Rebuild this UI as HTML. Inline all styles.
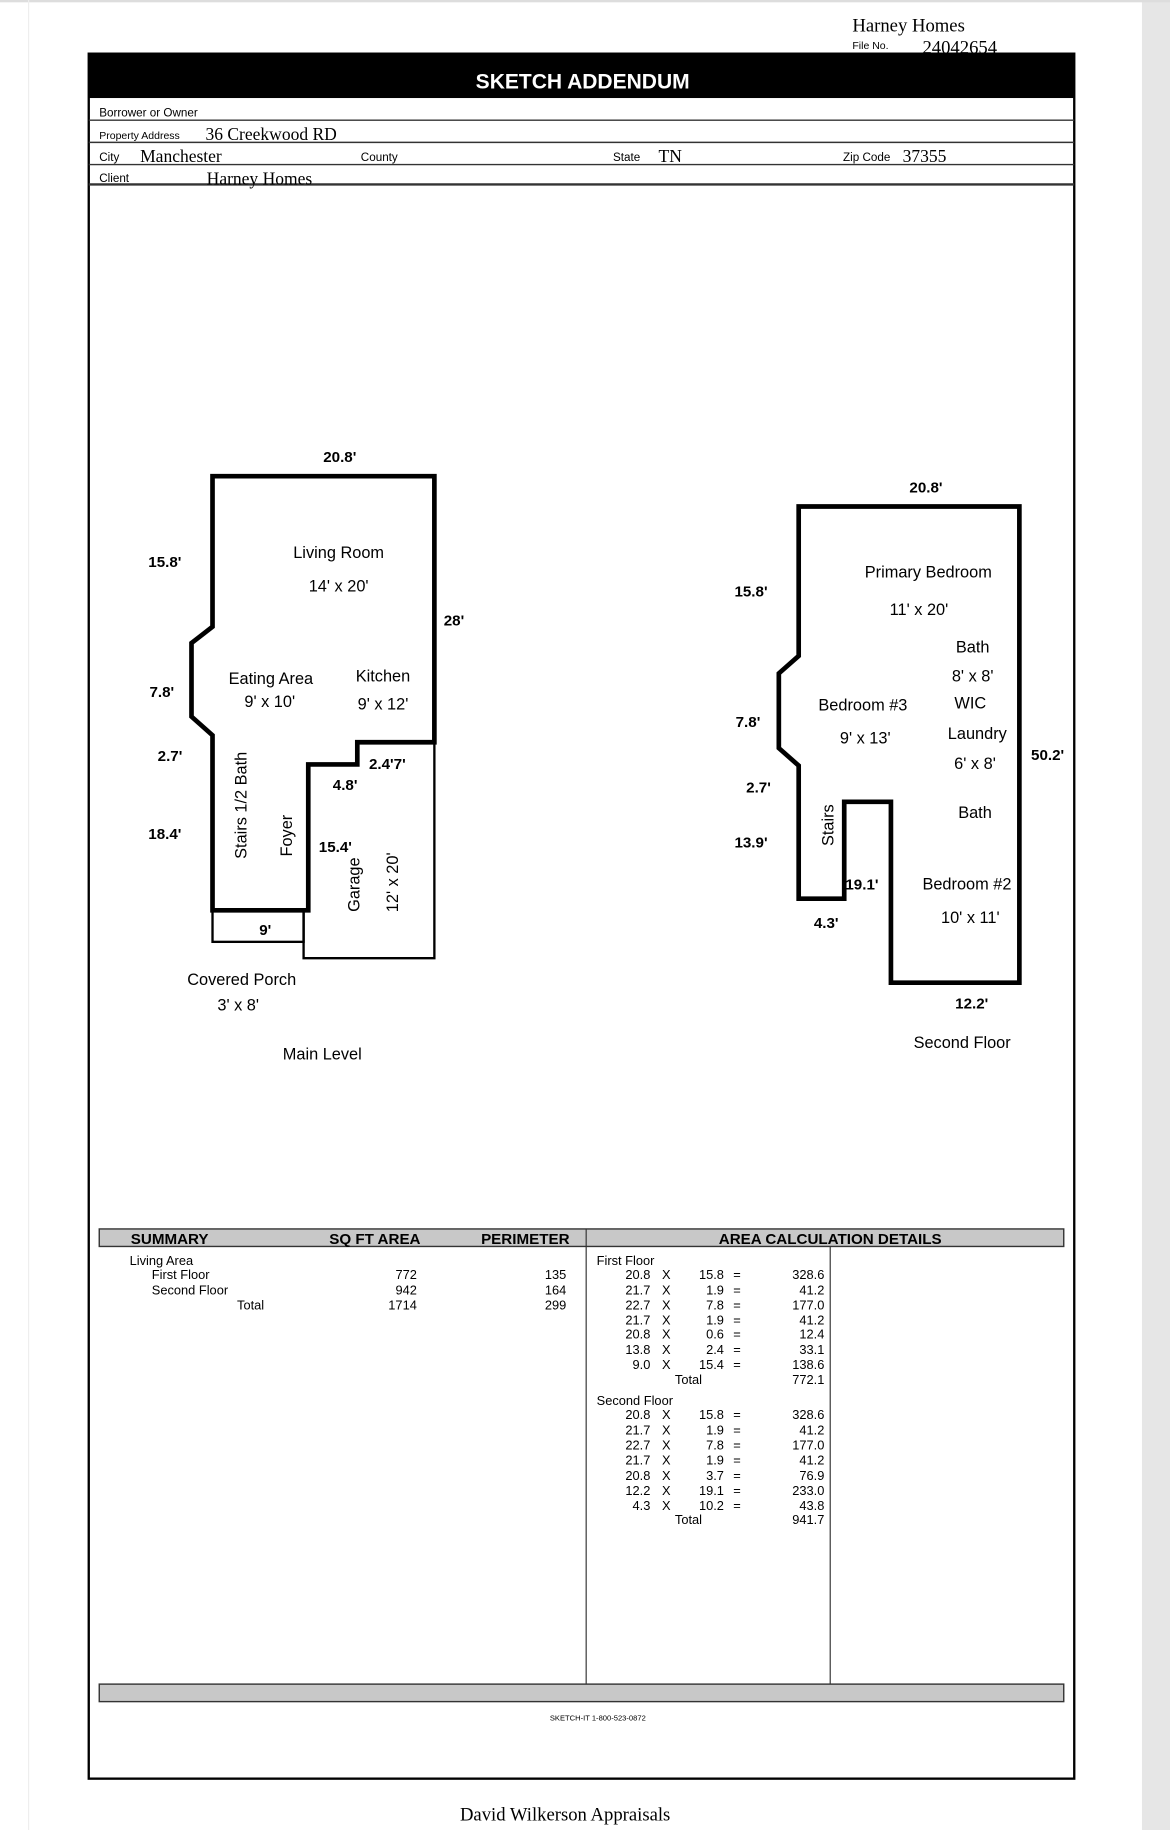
<!DOCTYPE html>
<html><head><meta charset="utf-8"><style>
html,body{margin:0;padding:0;background:#fff;}
svg{display:block;}
text{font-family:"Liberation Sans",Arial,sans-serif;fill:#000;}
.s{font-family:"Liberation Serif",serif;}
.d{font-weight:bold;font-size:13px;}
.r{font-size:14px;}
.t{font-size:11px;}
</style></head><body>
<svg width="1170" height="1830" viewBox="0 0 1002 1568" preserveAspectRatio="none" xmlns="http://www.w3.org/2000/svg">
<rect x="0" y="0" width="1002" height="1568" fill="#fff"/>
<rect x="978" y="0" width="24" height="1568" fill="#e6e6e6"/>
<rect x="0" y="0" width="1002" height="2" fill="#ddd"/>
<rect x="24" y="0" width="1" height="1568" fill="#eee"/>
<!-- header -->
<text x="730" y="27" class="s" font-size="16">Harney Homes</text>
<text x="730" y="42" font-size="9">File No.</text>
<text x="790" y="46" class="s" font-size="16">24042654</text>
<rect x="76" y="46" width="844" height="38" fill="#000"/>
<text x="499" y="76" text-anchor="middle" font-size="18" font-weight="bold" style="fill:#fff">SKETCH ADDENDUM</text>
<rect x="76" y="46" width="844" height="1478" fill="none" stroke="#000" stroke-width="2"/>
<g stroke="#333" stroke-width="1.2">
<line x1="76" y1="103" x2="920" y2="103"/>
<line x1="76" y1="122" x2="920" y2="122"/>
<line x1="76" y1="141" x2="920" y2="141"/>
<line x1="76" y1="158" x2="920" y2="158" stroke-width="2"/>
</g>
<text x="85" y="100" font-size="10">Borrower or Owner</text>
<text x="85" y="119" font-size="9">Property Address</text>
<text x="176" y="120" class="s" font-size="15">36 Creekwood RD</text>
<text x="85" y="138" font-size="10">City</text>
<text x="120" y="139" class="s" font-size="15">Manchester</text>
<text x="309" y="138" font-size="10">County</text>
<text x="525" y="138" font-size="10">State</text>
<text x="564" y="139" class="s" font-size="15">TN</text>
<text x="722" y="138" font-size="10">Zip Code</text>
<text x="773" y="139" class="s" font-size="15">37355</text>
<text x="85" y="156" font-size="10">Client</text>
<text x="177" y="158" class="s" font-size="15">Harney Homes</text>

<!-- Main level -->
<g fill="none" stroke="#000">
<rect x="182" y="780" width="78" height="27" stroke-width="2"/>
<polyline points="260,780 260,821 372,821 372,636" stroke-width="2"/>
<polygon points="182,408 372,408 372,636 306,636 306,655 264,655 264,780 182,780 182,630 164,614 164,551 182,537" stroke-width="4"/>
</g>
<text x="291" y="396" text-anchor="middle" class="d">20.8'</text>
<text x="127" y="486" class="d">15.8'</text>
<text x="380" y="536" class="d">28'</text>
<text x="128" y="597" class="d">7.8'</text>
<text x="135" y="652" class="d">2.7'</text>
<text x="127" y="719" class="d">18.4'</text>
<text x="316" y="659" class="d">2.4'7'</text>
<text x="285" y="677" class="d">4.8'</text>
<text x="273" y="730" class="d">15.4'</text>
<text x="222" y="801" class="d">9'</text>
<text x="290" y="478" text-anchor="middle" class="r">Living Room</text>
<text x="290" y="507" text-anchor="middle" class="r">14' x 20'</text>
<text x="232" y="586" text-anchor="middle" class="r">Eating Area</text>
<text x="231" y="606" text-anchor="middle" class="r">9' x 10'</text>
<text x="328" y="584" text-anchor="middle" class="r">Kitchen</text>
<text x="328" y="608" text-anchor="middle" class="r">9' x 12'</text>
<text transform="translate(211,690) rotate(-90)" text-anchor="middle" class="r">Stairs 1/2 Bath</text>
<text transform="translate(250,716) rotate(-90)" text-anchor="middle" class="r">Foyer</text>
<text transform="translate(308,758) rotate(-90)" text-anchor="middle" class="r">Garage</text>
<text transform="translate(341,756) rotate(-90)" text-anchor="middle" class="r">12' x 20'</text>
<text x="207" y="844" text-anchor="middle" class="r">Covered Porch</text>
<text x="204" y="866" text-anchor="middle" class="r">3' x 8'</text>
<text x="276" y="908" text-anchor="middle" class="r">Main Level</text>

<!-- Second floor -->
<polygon points="684,434 873,434 873,842 763,842 763,687 723,687 723,770 684,770 684,656 667,641 667,577 684,562" fill="none" stroke="#000" stroke-width="4"/>
<text x="793" y="422" text-anchor="middle" class="d">20.8'</text>
<text x="629" y="511" class="d">15.8'</text>
<text x="630" y="623" class="d">7.8'</text>
<text x="639" y="679" class="d">2.7'</text>
<text x="629" y="726" class="d">13.9'</text>
<text x="724" y="762" class="d">19.1'</text>
<text x="697" y="795" class="d">4.3'</text>
<text x="883" y="651" class="d">50.2'</text>
<text x="818" y="864" class="d">12.2'</text>
<text x="795" y="495" text-anchor="middle" class="r">Primary Bedroom</text>
<text x="787" y="527" text-anchor="middle" class="r">11' x 20'</text>
<text x="833" y="559" text-anchor="middle" class="r">Bath</text>
<text x="833" y="584" text-anchor="middle" class="r">8' x 8'</text>
<text x="831" y="607" text-anchor="middle" class="r">WIC</text>
<text x="837" y="633" text-anchor="middle" class="r">Laundry</text>
<text x="835" y="659" text-anchor="middle" class="r">6' x 8'</text>
<text x="835" y="701" text-anchor="middle" class="r">Bath</text>
<text x="739" y="609" text-anchor="middle" class="r">Bedroom #3</text>
<text x="741" y="637" text-anchor="middle" class="r">9' x 13'</text>
<text transform="translate(714,707) rotate(-90)" text-anchor="middle" class="r">Stairs</text>
<text x="790" y="762" class="r">Bedroom #2</text>
<text x="831" y="791" text-anchor="middle" class="r">10' x 11'</text>
<text x="824" y="898" text-anchor="middle" class="r">Second Floor</text>

<!-- table -->
<rect x="85" y="1053" width="826" height="15" fill="#c8c8c8" stroke="#333" stroke-width="1.2"/>
<rect x="85" y="1443" width="826" height="15" fill="#c8c8c8" stroke="#333" stroke-width="1.2"/>
<line x1="502" y1="1053" x2="502" y2="1443" stroke="#333"/>
<line x1="711" y1="1068" x2="711" y2="1443" stroke="#333"/>
<g font-size="13" font-weight="bold">
<text x="112" y="1066">SUMMARY</text>
<text x="282" y="1066">SQ FT AREA</text>
<text x="412" y="1066">PERIMETER</text>
<text x="711" y="1066" text-anchor="middle">AREA CALCULATION DETAILS</text>
</g>
<g class="t" font-size="10.5">
<text x="111" y="1084">Living Area</text>
<text x="130" y="1096">First Floor</text>
<text x="130" y="1109">Second Floor</text>
<text x="203" y="1122">Total</text>
<g text-anchor="end">
<text x="357" y="1096">772</text><text x="357" y="1109">942</text><text x="357" y="1122">1714</text>
<text x="485" y="1096">135</text><text x="485" y="1109">164</text><text x="485" y="1122">299</text>
</g>
<text x="511" y="1084">First Floor</text>
<g text-anchor="end">
<text x="557" y="1096">20.8</text><text x="620" y="1096">15.8</text><text x="706" y="1096">328.6</text>
<text x="557" y="1109">21.7</text><text x="620" y="1109">1.9</text><text x="706" y="1109">41.2</text>
<text x="557" y="1122">22.7</text><text x="620" y="1122">7.8</text><text x="706" y="1122">177.0</text>
<text x="557" y="1135">21.7</text><text x="620" y="1135">1.9</text><text x="706" y="1135">41.2</text>
<text x="557" y="1147">20.8</text><text x="620" y="1147">0.6</text><text x="706" y="1147">12.4</text>
<text x="557" y="1160">13.8</text><text x="620" y="1160">2.4</text><text x="706" y="1160">33.1</text>
<text x="557" y="1173">9.0</text><text x="620" y="1173">15.4</text><text x="706" y="1173">138.6</text>
<text x="706" y="1186">772.1</text>
</g>
<g>
<text x="567" y="1096">X</text><text x="628" y="1096">=</text>
<text x="567" y="1109">X</text><text x="628" y="1109">=</text>
<text x="567" y="1122">X</text><text x="628" y="1122">=</text>
<text x="567" y="1135">X</text><text x="628" y="1135">=</text>
<text x="567" y="1147">X</text><text x="628" y="1147">=</text>
<text x="567" y="1160">X</text><text x="628" y="1160">=</text>
<text x="567" y="1173">X</text><text x="628" y="1173">=</text>
<text x="578" y="1186">Total</text>
</g>
<text x="511" y="1204">Second Floor</text>
<g text-anchor="end">
<text x="557" y="1216">20.8</text><text x="620" y="1216">15.8</text><text x="706" y="1216">328.6</text>
<text x="557" y="1229">21.7</text><text x="620" y="1229">1.9</text><text x="706" y="1229">41.2</text>
<text x="557" y="1242">22.7</text><text x="620" y="1242">7.8</text><text x="706" y="1242">177.0</text>
<text x="557" y="1255">21.7</text><text x="620" y="1255">1.9</text><text x="706" y="1255">41.2</text>
<text x="557" y="1268">20.8</text><text x="620" y="1268">3.7</text><text x="706" y="1268">76.9</text>
<text x="557" y="1281">12.2</text><text x="620" y="1281">19.1</text><text x="706" y="1281">233.0</text>
<text x="557" y="1294">4.3</text><text x="620" y="1294">10.2</text><text x="706" y="1294">43.8</text>
<text x="706" y="1306">941.7</text>
</g>
<g>
<text x="567" y="1216">X</text><text x="628" y="1216">=</text>
<text x="567" y="1229">X</text><text x="628" y="1229">=</text>
<text x="567" y="1242">X</text><text x="628" y="1242">=</text>
<text x="567" y="1255">X</text><text x="628" y="1255">=</text>
<text x="567" y="1268">X</text><text x="628" y="1268">=</text>
<text x="567" y="1281">X</text><text x="628" y="1281">=</text>
<text x="567" y="1294">X</text><text x="628" y="1294">=</text>
<text x="578" y="1306">Total</text>
</g>
</g>
<text x="512" y="1474" text-anchor="middle" font-size="6.5">SKETCH-IT 1-800-523-0872</text>
<text x="484" y="1560" text-anchor="middle" class="s" font-size="16">David Wilkerson Appraisals</text>
</svg>
</body></html>
